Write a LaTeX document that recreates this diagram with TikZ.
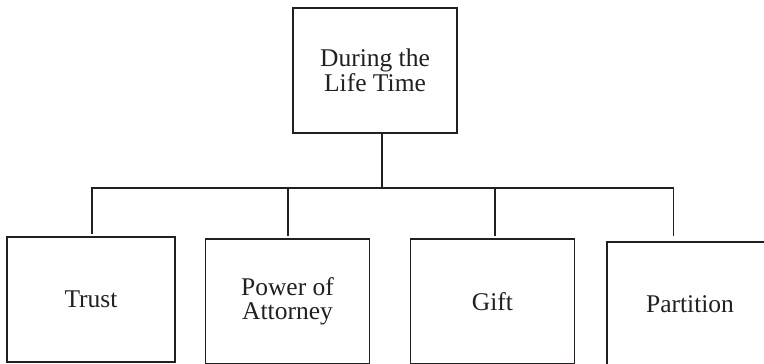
\documentclass[tikz,border=0pt]{standalone}
\usepackage{fontspec}
\setmainfont{Liberation Serif}
\usetikzlibrary{positioning}
\definecolor{ink}{HTML}{231F20}
\tikzset{
  every node/.style={text=ink},
  box/.style={draw=ink,line width=1.6pt,minimum width=164pt,minimum height=125pt,align=center,inner sep=0pt,font=\fontsize{25.5}{24.5}\selectfont},
  link/.style={draw=ink,line width=1.6pt},
}

\begin{document}
\begin{tikzpicture}[x=1pt,y=1pt]
\useasboundingbox (0,0) rectangle (764,364);
\clip (0,0) rectangle (764,364);

% root
\node[box] (life) at (375,293.5) {During the\\Life Time};

% children
\node[box,minimum width=168pt] (trust) at (91,64.5) {Trust};
\node[box] (poa) at (287.5,62.5) {Power of\\Attorney};
\node[box] (gift) at (492.5,62.5) {Gift};
\node[box,minimum width=166pt] (part) at (690,59.5) {Partition};

% bus
\coordinate (hub) at (382,176);
\coordinate (dropA) at (92,176);
\coordinate (dropB) at (288,176);
\coordinate (dropC) at (495,176);
\coordinate (dropD) at (673.5,176);
\draw[link] (life.south -| hub) -- (hub);
\draw[link,shorten <=2pt,shorten >=5pt] (dropA |- trust.north) -- (dropA) -- (dropD) -- (dropD |- part.north);
\draw[link,shorten >=2pt] (dropB) -- (dropB |- poa.north);
\draw[link,shorten >=2pt] (dropC) -- (dropC |- gift.north);

\end{tikzpicture}
\end{document}
